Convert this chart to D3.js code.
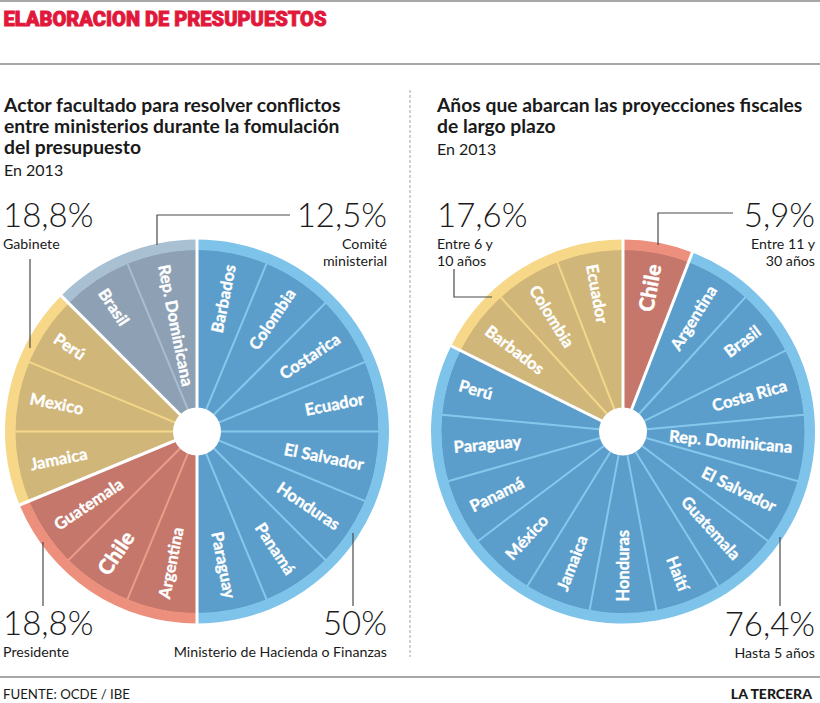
<!DOCTYPE html>
<html>
<head>
<meta charset="utf-8">
<script src="https://cdnjs.cloudflare.com/ajax/libs/d3/7.8.5/d3.min.js"></script>
<style>
  html, body { margin: 0; padding: 0; background: #fff; }
  svg { display: block; font-family: Lato, "Open Sans", sans-serif; }
</style>
</head>
<body>
<svg id="chart" width="820" height="703"></svg>
<script>
// ---------------- DATA ----------------
const leftCountries = ["Barbados","Colombia","Costarica","Ecuador","El Salvador","Honduras","Panamá","Paraguay",
                       "Argentina","Chile","Guatemala",
                       "Jamaica","Mexico","Perú",
                       "Brasil","Rep. Dominicana"];
const leftCountryGroup = [0,0,0,0,0,0,0,0, 1,1,1, 2,2,2, 3,3];
const leftGroupShares = ["50%","18,8%","18,8%","12,5%"];
const leftGroupNames = [["Ministerio de Hacienda o Finanzas"],["Presidente"],["Gabinete"],["Comité","ministerial"]];

const rightCountries = ["Chile",
                        "Argentina","Brasil","Costa Rica","Rep. Dominicana","El Salvador","Guatemala","Haití",
                        "Honduras","Jamaica","México","Panamá","Paraguay","Perú",
                        "Barbados","Colombia","Ecuador"];
const rightCountryGroup = [0, 1,1,1,1,1,1,1,1,1,1,1,1,1, 2,2,2];
const rightGroupShares = ["5,9%","76,4%","17,6%"];
const rightGroupNames = [["Entre 11 y","30 años"],["Hasta 5 años"],["Entre 6 y","10 años"]];

const highlighted = ["Chile"];

// ---------------- STYLE ----------------
const palette = {
  blue:   {fill:"#5c9ecb", ring:"#7dc3ea", sep:"#85c8ee"},
  red:    {fill:"#c4776a", ring:"#ec8f7c", sep:"#ee9c89"},
  yellow: {fill:"#d0b679", ring:"#f6d888", sep:"#f4d78b"},
  gray:   {fill:"#8ea1b4", ring:"#a9c0d3", sep:"#a8bdcf"}
};
const leftGroupColors = [palette.blue, palette.red, palette.yellow, palette.gray];
const rightGroupColors = [palette.red, palette.blue, palette.yellow];

const R = 192, ringIn = 182, hole = 24, labelR = 170;

const svg = d3.select("#chart");

// ---------- frame ----------
svg.append("line").attr("x1",0).attr("x2",820).attr("y1",1).attr("y2",1).attr("stroke","#8a8a8a").attr("stroke-width",1.5);
svg.append("line").attr("x1",0).attr("x2",820).attr("y1",64).attr("y2",64).attr("stroke","#8a8a8a").attr("stroke-width",1.5);
svg.append("line").attr("x1",0).attr("x2",820).attr("y1",677).attr("y2",677).attr("stroke","#8a8a8a").attr("stroke-width",1.5);
svg.append("line").attr("x1",410).attr("x2",410).attr("y1",90).attr("y2",657)
   .attr("stroke","#a5a5a5").attr("stroke-width",1).attr("stroke-dasharray","3,2");

svg.append("text").attr("x",3.5).attr("y",26)
  .attr("font-family","Roboto, Lato, sans-serif")
  .attr("font-size",19.5).attr("font-weight",900).attr("fill","#e1183b")
  .attr("stroke","#e1183b").attr("stroke-width",0.9)
  .attr("textLength",323).attr("lengthAdjust","spacingAndGlyphs")
  .text("ELABORACION DE PRESUPUESTOS");

function titleBlock(x, lines, sub, y0) {
  lines.forEach((t,i) => {
    svg.append("text").attr("x",x).attr("y",y0 + i*21.3)
      .attr("font-size",19.3).attr("font-weight",700).attr("fill","#1a1a1a").text(t);
  });
  svg.append("text").attr("x",x).attr("y",y0 + lines.length*21.3 + 1)
    .attr("font-size",16).attr("font-weight",400).attr("fill","#1a1a1a").text(sub);
}
titleBlock(4, ["Actor facultado para resolver conflictos","entre ministerios durante la fomulación","del presupuesto"], "En 2013", 111.5);
titleBlock(437, ["Años que abarcan las proyecciones fiscales","de largo plazo"], "En 2013", 111.5);

svg.append("text").attr("x",3).attr("y",699).attr("font-size",14).attr("fill","#1a1a1a")
  .attr("textLength",127).attr("lengthAdjust","spacingAndGlyphs").text("FUENTE: OCDE / IBE");
svg.append("text").attr("x",812).attr("y",699).attr("font-size",14).attr("font-weight",900)
  .attr("text-anchor","end").attr("fill","#1a1a1a").text("LA TERCERA");

// ---------- wheel ----------
function pt(a, r) { return [r*Math.sin(a), -r*Math.cos(a)]; }

function drawWheel(cx, cy, countries, groupOf, colors) {
  const g = svg.append("g").attr("transform", `translate(${cx},${cy})`);
  const slices = d3.pie().value(() => 1).sort(null)(countries);
  const nGroups = d3.max(groupOf) + 1;
  const groups = d3.range(nGroups).map(k => {
    const s = slices.filter((d,i) => groupOf[i] === k);
    return {k, startAngle: d3.min(s, d => d.startAngle), endAngle: d3.max(s, d => d.endAngle)};
  });
  const fillArc = d3.arc().innerRadius(0).outerRadius(ringIn);
  const ringArc = d3.arc().innerRadius(ringIn - 0.5).outerRadius(R);

  g.selectAll("path.fill").data(groups).join("path").attr("class","fill")
    .attr("d", fillArc).attr("fill", d => colors[d.k].fill);
  g.selectAll("path.ring").data(groups).join("path").attr("class","ring")
    .attr("d", ringArc).attr("fill", d => colors[d.k].ring);

  // separators inside groups
  const inner = slices.filter((d,i) => i > 0 && groupOf[i] === groupOf[i-1]);
  g.selectAll("line.sep").data(inner).join("line").attr("class","sep")
    .attr("x1", d => pt(d.startAngle, hole)[0]).attr("y1", d => pt(d.startAngle, hole)[1])
    .attr("x2", d => pt(d.startAngle, ringIn)[0]).attr("y2", d => pt(d.startAngle, ringIn)[1])
    .attr("stroke", d => colors[groupOf[d.index]].sep).attr("stroke-width", 2);

  // white group borders
  g.selectAll("line.border").data(groups).join("line").attr("class","border")
    .attr("x1",0).attr("y1",0)
    .attr("x2", d => pt(d.startAngle, R + 2)[0]).attr("y2", d => pt(d.startAngle, R + 2)[1])
    .attr("stroke","#fff").attr("stroke-width",3);

  g.append("circle").attr("r", hole).attr("fill","#fff");

  // labels
  const mid = d => (d.startAngle + d.endAngle) / 2 * 180 / Math.PI;
  g.selectAll("text.lbl").data(slices).join("text").attr("class","lbl")
    .attr("transform", d => {
      const a = mid(d);
      return a < 179.9 ? `rotate(${a - 90}) translate(${labelR},0)` : `rotate(${a - 270}) translate(${-labelR},0)`;
    })
    .attr("text-anchor", d => mid(d) < 179.9 ? "end" : "start")
    .attr("dy","0.36em")
    .attr("font-size", d => highlighted.includes(d.data) ? 21 : 16.5)
    .attr("font-weight", d => highlighted.includes(d.data) ? 900 : 700)
    .attr("fill","#fff").attr("stroke","#fff").attr("stroke-width",0.35)
    .text(d => d.data);
  return g;
}

drawWheel(197, 431.5, leftCountries, leftCountryGroup, leftGroupColors);
drawWheel(623, 431.5, rightCountries, rightCountryGroup, rightGroupColors);

// ---------- annotations ----------
function bigLabel(x, y, anchor, share, names) {
  svg.append("text").attr("x",x).attr("y",y).attr("text-anchor",anchor)
    .attr("font-size",33).attr("font-weight",300).attr("fill","#1a1a1a").text(share);
  names.forEach((t,i) => {
    svg.append("text").attr("x",x).attr("y",y + 21.5 + i*17).attr("text-anchor",anchor)
      .attr("font-size",14.2).attr("fill","#1a1a1a").text(t);
  });
}
function leader(points) {
  svg.append("path").attr("d", d3.line()(points)).attr("fill","none")
    .attr("stroke","#4a4a4a").attr("stroke-width",1.2);
}

// left wheel
bigLabel(3, 227, "start", leftGroupShares[2], leftGroupNames[2]);
bigLabel(387, 227, "end", leftGroupShares[3], leftGroupNames[3]);
bigLabel(3, 635, "start", leftGroupShares[1], leftGroupNames[1]);
bigLabel(387, 635, "end", leftGroupShares[0], leftGroupNames[0]);
leader([[30,259],[30,348]]);
leader([[290,215],[157,215],[157,245]]);
leader([[43,542],[43,606]]);
leader([[353,533],[353,606]]);

// right wheel
bigLabel(437, 227, "start", rightGroupShares[2], rightGroupNames[2]);
bigLabel(815, 227, "end", rightGroupShares[0], rightGroupNames[0]);
bigLabel(815, 636, "end", rightGroupShares[1], rightGroupNames[1]);
leader([[454,269],[454,297],[492,297]]);
leader([[733,213],[658,213],[658,245]]);
leader([[780,537],[780,606]]);
</script>
</body>
</html>
